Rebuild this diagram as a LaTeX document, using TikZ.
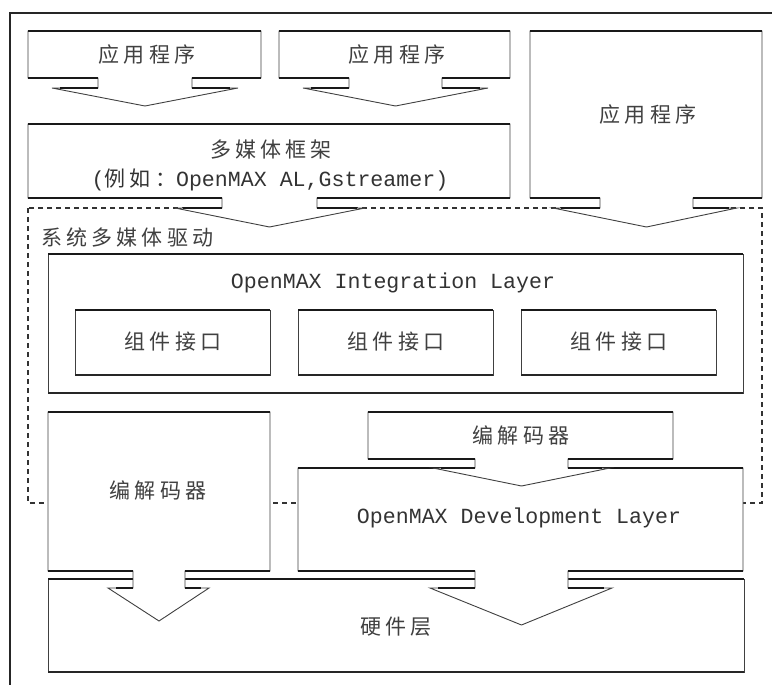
\documentclass[tikz,border=0pt]{standalone}
\usepackage{fontspec}
\newfontfamily\cjk[LetterSpace=20]{Noto Sans CJK SC}
\newfontfamily\mono{Liberation Mono}
\newcommand\cjkt{\cjk\fontsize{21}{25}\selectfont}
\newcommand\monot{\mono\fontsize{21.6}{24}\selectfont}
\tikzset{
  boxline/.style={line width=0.9pt, draw=black!75, fill=white},
  thickline/.style={line width=2pt, draw=black!90},
  midline/.style={line width=1.2pt, draw=black!85},
  dashbox/.style={line width=1.4pt, draw=black!80, dash pattern=on 5pt off 4pt},
  lbl/.style={inner sep=0pt, text=black!75, font=\cjkt},
  mlbl/.style={inner sep=0pt, text=black!80, font=\monot}
}
% #1 L, #2 T, #3 R, #4 B, #5 step L, #6 step R, #7 tab y, #8 wing L, #9 wing R ; tip y in \tipy
\newcommand\myabox[9]{%
  \filldraw[boxline] (#1,#2) -- (#3,#2) -- (#3,#4) -- (#6,#4) -- (#6,#7) -- (#9,#7)
     -- ({(#5+#6)/2},\tipy) -- (#8,#7) -- (#5,#7) -- (#5,#4) -- (#1,#4) -- cycle;
  \draw[thickline] (#1,#2) -- (#3,#2);
  \draw[thickline] (#1,#4) -- (#5,#4) (#6,#4) -- (#3,#4);
  \draw[thickline] ({#8+8},#7) -- (#5,#7) (#6,#7) -- ({#9-8},#7);
}
\newcommand\myrbox[4]{%
  \filldraw[boxline] (#1,#2) rectangle (#3,#4);
  \draw[thickline] (#1,#2) -- (#3,#2);
  \draw[midline] (#1,#4) -- (#3,#4);
}
\begin{document}
\begin{tikzpicture}[x=1pt,y=-1pt]
\useasboundingbox (0,0) rectangle (772,685);
% outer frame
\draw[line width=1.6pt, black!85] (10,685) -- (10,13) -- (772,13);
% dashed driver region
\draw[dashbox] (28,208) rectangle (762,503);
\node[lbl, anchor=west] (drv) at (41,237) {系统多媒体驱动};
% application boxes
\def\tipy{106}
\myabox{28}{31}{261}{78}{98}{192}{88}{52}{238}
\node[lbl] (app1) at (147,55) {应用程序};
\myabox{279}{31}{510}{78}{349}{442}{88}{303}{488}
\node[lbl] (app2) at (397,55) {应用程序};
% multimedia framework
\def\tipy{227}
\myabox{28}{124}{510}{198}{222}{317}{208}{175}{365}
\node[lbl] (mmf) at (271,150) {多媒体框架};
\node[inner sep=0pt, text=black!80] (mmfex) at (270,180) {\monot(\cjkt 例如：\monot OpenMAX AL,Gstreamer)};
% right application
\myabox{530}{31}{762}{198}{600}{693}{208}{553}{737}
\node[lbl] (app3) at (648,115) {应用程序};
% integration layer
\myrbox{48}{254}{743}{393}
\node[mlbl] (il) at (393,283) {OpenMAX Integration Layer};
\myrbox{75}{310}{270}{375}
\node[lbl] (c1) at (173,342) {组件接口};
\myrbox{298}{310}{493}{375}
\node[lbl] (c2) at (396,342) {组件接口};
\myrbox{521}{310}{716}{375}
\node[lbl] (c3) at (619,342) {组件接口};
% hardware
\myrbox{48}{579}{744}{672}
\node[lbl] (hw) at (396,627) {硬件层};
% development layer
\def\tipy{625}
\myabox{298}{468}{743}{571}{475}{568}{588}{430}{612}
\node[mlbl] (dl) at (519,518) {OpenMAX Development Layer};
% right codec
\def\tipy{486}
\myabox{368}{412}{673}{459}{475}{568}{468}{433}{610}
\node[lbl] (codec2) at (521,435) {编解码器};
% left codec
\def\tipy{621}
\myabox{48}{412}{270}{571}{133}{185}{588}{108}{209}
\node[lbl] (codec1) at (158,490) {编解码器};
\end{tikzpicture}
\end{document}
